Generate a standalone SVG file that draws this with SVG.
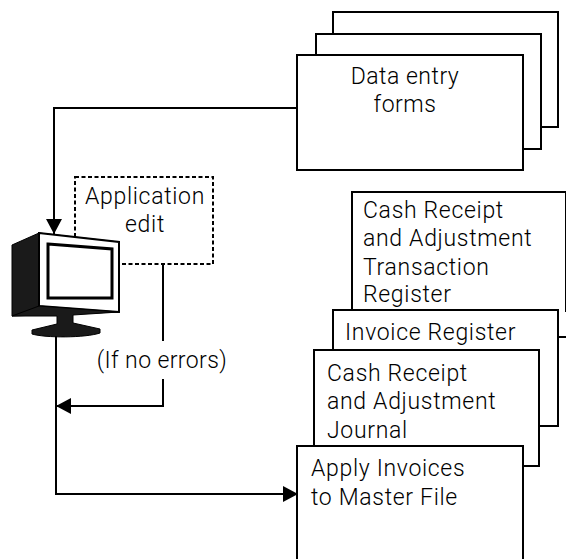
<svg xmlns="http://www.w3.org/2000/svg" width="566" height="559" viewBox="0 0 566 559">
<style>
.b{fill:#fff;stroke:#000;stroke-width:2}
.c{fill:none;stroke:#000;stroke-width:2}
text{font-family:"Roboto","Liberation Sans",Arial,sans-serif;font-weight:300;font-size:23px;letter-spacing:.68px;fill:#000}
.m{text-anchor:middle}
</style>
<defs>
<marker id="ah" markerUnits="userSpaceOnUse" markerWidth="16" markerHeight="18" refX="15" refY="8" orient="auto"><path d="M0 0L15 8L0 16Z" fill="#000"/></marker>
</defs>
<rect width="566" height="559" fill="#fff"/>
<g id="data-entry-forms">
<rect class="b" x="333" y="12" width="225" height="115"/>
<rect class="b" x="316" y="34" width="225" height="115"/>
<rect class="b" x="297" y="55" width="226" height="115"/>
<text class="m" x="405" y="84" style="letter-spacing:.5px">Data entry</text>
<text class="m" x="405" y="112" style="letter-spacing:.5px">forms</text>
</g>
<g id="cash-receipt-register">
<path class="b" d="M352 312V192H566V312"/>
<text x="363" y="218">Cash Receipt</text>
<text x="363" y="246">and Adjustment</text>
<text x="363" y="275">Transaction</text>
<text x="363" y="302">Register</text>
<path class="c" d="M558 337H566"/>
</g>
<g id="invoice-register">
<rect class="b" x="333" y="310" width="225" height="116"/>
<text x="345" y="340">Invoice Register</text>
</g>
<g id="cash-receipt-journal">
<rect class="b" x="314" y="350" width="225" height="116"/>
<text x="327" y="381">Cash Receipt</text>
<text x="327" y="409">and Adjustment</text>
<text x="327" y="438">Journal</text>
</g>
<g id="apply-invoices">
<path class="b" d="M297 559V446H523V559"/>
<text x="311" y="476">Apply Invoices</text>
<text x="311" y="505">to Master File</text>
</g>
<g id="application-edit">
<rect x="75" y="177" width="138" height="87" fill="#fff" stroke="#000" stroke-width="2" stroke-dasharray="4 2.5"/>
<text class="m" x="145" y="204">Application</text>
<text class="m" x="145" y="232">edit</text>
</g>
<g id="computer">
<path d="M12 245L39 233L119 242V312L12 316Z" fill="#1a1a1a" stroke="#000"/>
<path d="M39 233L119 242V312L39 306Z" fill="#fff" stroke="#000" stroke-width="2"/>
<path d="M48 244L112 249V298L48 298Z" fill="#fff" stroke="#000" stroke-width="3"/>
<path d="M12 316L39 306L119 312L73 315V323L100 329V333C85 338 45 338 32 334V330L57 324V316Z" fill="#1a1a1a" stroke="#000"/>
</g>
<g id="connectors">
<path class="c" d="M297 108H54V234" marker-end="url(#ah)"/>
<path class="c" d="M163 264V341"/>
<path class="c" d="M163 379V406H56" marker-end="url(#ah)"/>
<path class="c" d="M56 336V494H298" marker-end="url(#ah)"/>
</g>
<g id="label-no-errors">
<text class="m" x="162" y="368" style="letter-spacing:.4px">(If no errors)</text>
</g>
</svg>
